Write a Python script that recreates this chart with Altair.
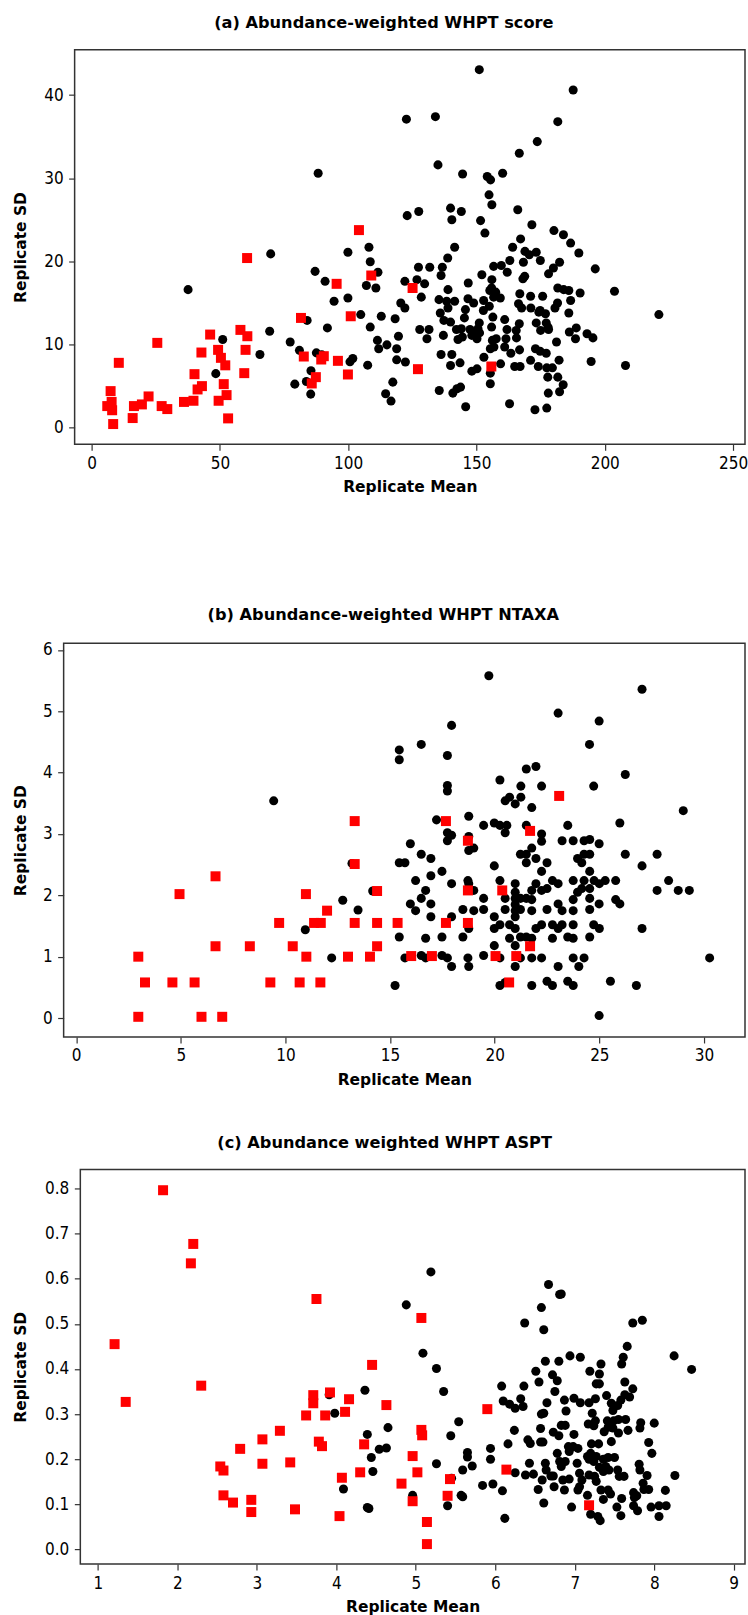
import altair as alt
import pandas as pd

# ---------------- data ----------------
A_TITLE = "(a) Abundance-weighted WHPT score"
B_TITLE = "(b) Abundance-weighted WHPT NTAXA"
C_TITLE = "(c) Abundance weighted WHPT ASPT"

A_RED = [(60.6,20.4),(25.6,10.2),(10.6,7.8),(7.4,4.4),(6.1,2.6),(7.8,3.1),(8.0,2.1),(8.4,0.44),(16.0,1.16),
         (16.5,2.6),(19.6,2.8),(22.2,3.76),(27.3,2.6),(29.5,2.24),(36.0,3.1),(39.7,3.24),(40.1,6.44),(41.3,4.6),
         (43.0,5.0),(42.8,9.04),(46.2,11.2),(49.3,9.36),(50.4,8.4),(52.1,7.5),(51.5,5.24),(49.5,3.24),(52.6,3.92),
         (53.2,1.12),(58.0,11.76),(60.7,11.0),(60.0,9.36),(59.5,6.56),(81.6,13.2),(82.7,8.56),(85.8,5.32),(87.4,6.08),
         (89.5,8.2),(90.5,8.6),(96.0,8.04),(95.5,17.3),(99.9,6.4),(101.0,13.4),(104.2,23.76),(109.0,18.3),
         (125.1,16.8),(127.2,7.04),(155.8,7.36)]

A_BLACK = [(37.6,16.6),(69.8,20.9),(51.1,10.6),(48.4,6.5),(65.6,8.8),(69.4,11.6),(77.4,10.3),(81.0,9.3),(84.0,12.9),
           (87.1,18.8),(91.0,17.6),(94.5,15.2),(91.9,12.0),(79.2,5.24),(83.7,5.56),(85.5,6.84),(85.4,4.04),(87.6,9.0),
           (89.7,8.76),(99.9,21.1),(99.9,15.6),(100.7,7.92),(101.8,8.32),(104.9,13.6),
           (151.1,43.05),(187.7,40.6),(122.7,37.1),(134.0,37.4),(181.7,36.8),(173.7,34.4),(166.7,33.0),(88.3,30.6),
           (135.0,31.6),(144.6,30.5),(154.2,30.2),(155.5,29.8),(160.2,30.6),(154.9,28.0),(156.0,26.8),(166.1,26.2),
           (123.0,25.5),(127.5,26.0),(139.9,26.4),(144.1,26.0),(140.4,25.0),(151.6,24.9),(153.3,23.4),(171.6,24.4),
           (180.2,23.7),(183.9,23.2),(186.7,22.2),(189.9,21.0),(167.2,22.7),(164.1,21.7),(141.5,21.7),(138.8,20.4),
           (108.1,21.7),(108.6,19.96),(168.9,21.2),(170.6,20.8),(173.3,21.1),(174.9,20.1),(163.0,20.1),(168.3,19.9),
           (182.4,19.9),(196.3,19.1),
           (111.6,18.7),(107.1,17.1),(110.8,16.8),(112.9,13.4),(118.3,13.1),(108.6,12.1),(111.4,10.5),(111.9,9.5),
           (115.1,9.96),(118.9,9.5),(119.6,11.0),(120.5,15.0),(122.1,14.4),(122.1,17.6),(126.8,17.8),(129.8,17.3),
           (127.4,19.3),(131.8,19.3),(136.7,19.3),(136.2,18.3),(128.5,15.7),(127.9,11.8),(130.7,10.7),(131.5,11.8),
           (118.9,8.16),(122.3,7.9),(107.6,7.52),(117.4,5.48),(114.6,4.08),(116.7,3.2),(135.5,4.48),(140.8,4.16),
           (142.4,4.68),(143.8,4.88),(145.8,2.52),(136.2,8.8),(140.4,8.8),(139.9,7.48),(143.6,7.8),(148.2,6.8),
           (150.2,7.08),(137.1,11.1),(138.9,16.6),(135.4,15.4),(138.4,15.2),(141.5,15.2),(135.9,13.8),(137.3,12.9),
           (139.9,12.7),(138.9,14.4),(142.2,11.8),(144.1,11.9),(142.8,10.6),(144.5,10.9),(146.8,17.4),(146.7,15.5),
           (148.9,15.0),(145.7,14.2),(145.3,13.2),(147.5,11.8),(148.8,11.4),(150.6,11.9),(150.2,10.7),(151.2,11.4),
           (148.2,11.1),(152.1,18.4),(152.8,15.3),(152.7,14.1),(156.0,17.8),(155.9,16.8),(155.2,16.5),(157.5,16.3),
           (156.7,15.7),(159.3,15.6),(155.0,14.6),(156.4,13.3),(155.9,12.1),(151.1,12.6),(156.7,19.4),(159.7,19.5),
           (162.0,18.7),(161.0,13.0),(161.9,11.8),(156.2,10.5),(157.7,10.7),(161.5,10.7),(155.4,9.5),(156.8,9.7),
           (152.9,8.48),(161.0,9.7),(163.4,8.96),(166.8,9.36),(159.4,7.68),(155.4,6.56),(155.4,5.28),(164.9,7.36),
           (167.0,7.36),(162.9,2.88),(171.1,8.1),(172.8,2.16),(177.4,2.36),(174.1,7.36),(177.4,7.2),(179.6,7.2),
           (173.0,9.5),(174.8,9.2),(177.2,8.96),(177.8,6.08),(181.7,6.08),(183.8,5.16),(182.4,4.32),(178.0,4.16),
           (182.2,8.12),(181.2,10.3),(173.3,12.6),(175.0,11.7),(177.9,12.1),(178.1,11.8),(177.2,12.6),(166.7,12.5),
           (165.5,11.7),(165.6,10.8),(166.9,16.1),(166.4,14.9),(167.6,14.4),(171.1,15.8),(175.8,15.8),(171.2,14.4),
           (174.3,13.9),(176.9,13.7),(174.8,14.1),(180.6,14.4),(181.6,15.0),(181.7,16.8),(184.0,16.6),(186.0,16.5),
           (190.4,16.2),(186.7,15.3),(186.0,13.8),(186.2,11.5),(188.9,12.0),(188.6,10.7),(193.1,11.3),(195.4,10.8),
           (194.7,7.96),(203.8,16.4),(208.1,7.48),(221.1,13.6),(168.1,17.9),(168.8,18.2),(178.1,18.5),(180.0,19.2)]

B_RED = [(2.97,1.0),(2.97,0.02),(3.29,0.58),(4.6,0.58),(4.94,2.02),(5.66,0.58),(5.99,0.02),(6.66,2.31),(6.66,1.17),
         (6.98,0.02),(8.3,1.17),(9.28,0.58),(9.7,1.55),(10.35,1.17),(10.68,0.58),(10.98,2.02),(11.0,1.0),(11.37,1.55),
         (11.69,1.55),(11.67,0.58),(11.99,1.75),(12.99,1.0),(13.31,3.21),(13.31,2.51),(13.31,1.55),(14.04,1.0),
         (14.38,2.07),(14.38,1.55),(14.38,1.17),(15.36,1.55),(16.01,1.01),(17.0,1.01),(17.67,3.21),(17.67,1.55),
         (18.72,2.89),(18.72,2.08),(18.72,1.55),(20.04,1.01),(20.36,2.08),(20.69,0.58),(21.03,1.01),(21.69,3.05),
         (21.69,1.17),(23.08,3.62)]

B_BLACK = [(9.44,3.54),(10.95,1.44),(12.21,0.98),(12.74,1.92),(13.18,2.52),(13.47,1.76),(14.17,2.07),
           (19.72,5.58),(27.04,5.36),(23.03,4.97),(24.99,4.84),(17.94,4.77),(16.49,4.46),(24.53,4.46),(15.44,4.37),
           (15.44,4.21),(17.74,4.28),(21.51,4.06),(21.97,4.1),(26.24,3.97),(20.25,3.88),(21.25,3.78),(22.24,3.78),
           (24.73,3.78),(17.74,3.79),(17.74,3.7),(20.71,3.6),(21.25,3.6),(20.5,3.54),(20.98,3.49),(21.77,3.43),
           (29.01,3.38),(18.76,3.29),(17.22,3.23),(19.47,3.14),(19.98,3.18),(20.25,3.14),(20.58,3.14),(20.5,3.02),
           (21.51,3.14),(23.49,3.14),(25.98,3.18),(22.24,3.0),(22.24,2.88),(17.74,3.02),(17.94,2.98),(17.74,2.89),
           (18.76,2.96),(23.22,2.89),(23.75,2.89),(24.27,2.89),(24.54,2.91),(24.99,2.84),(15.97,2.84),(21.77,2.77),
           (18.76,2.73),(19.0,2.77),(16.49,2.67),(21.23,2.67),(21.51,2.67),(21.51,2.53),(26.24,2.67),(27.76,2.67),
           (16.95,2.6),(21.97,2.6),(22.5,2.53),(23.96,2.6),(24.27,2.67),(24.54,2.67),(24.16,2.53),(15.44,2.53),
           (15.71,2.53),(19.98,2.48),(27.04,2.48),(17.48,2.39),(22.24,2.39),(24.54,2.39),(16.95,2.32),(16.22,2.24),
           (17.94,2.19),(18.72,2.24),(18.76,2.19),(20.25,2.24),(20.98,2.19),(21.97,2.19),(22.76,2.24),(23.03,2.19),
           (23.75,2.24),(24.27,2.24),(24.75,2.24),(25.28,2.24),(25.78,2.24),(28.31,2.24),(16.7,2.08),(19.0,2.08),
           (19.47,1.95),(20.98,2.05),(21.77,2.08),(22.24,2.08),(22.5,2.11),(23.96,2.05),(24.16,2.11),(24.54,2.11),
           (25.0,2.19),(27.76,2.08),(28.77,2.08),(29.3,2.08),(16.49,1.95),(20.5,1.95),(20.98,1.95),(21.23,1.95),
           (21.51,1.95),(21.77,1.93),(23.75,1.93),(24.54,1.95),(25.78,1.93),(25.98,1.86),(15.97,1.86),(16.22,1.75),
           (16.95,1.86),(18.48,1.77),(19.0,1.75),(19.47,1.77),(20.5,1.77),(20.98,1.85),(20.98,1.75),(21.23,1.77),
           (21.77,1.75),(22.5,1.77),(23.03,1.86),(23.22,1.75),(23.75,1.75),(24.54,1.77),(24.99,1.86),(16.95,1.65),
           (17.94,1.65),(19.98,1.65),(20.98,1.65),(18.76,1.46),(19.98,1.46),(20.25,1.52),(20.71,1.52),(20.98,1.46),
           (21.97,1.46),(22.24,1.52),(22.76,1.52),(23.22,1.52),(23.03,1.46),(23.75,1.52),(24.73,1.52),(25.0,1.46),
           (27.04,1.46),(15.44,1.32),(16.7,1.3),(17.48,1.32),(18.48,1.32),(20.71,1.3),(21.23,1.32),(21.51,1.32),
           (21.77,1.3),(22.76,1.3),(23.49,1.32),(23.75,1.3),(24.54,1.32),(19.98,1.18),(20.98,1.18),(15.71,0.98),
           (16.49,1.02),(16.7,0.98),(17.48,1.02),(17.74,0.98),(17.94,0.84),(18.72,0.98),(18.76,0.84),(19.47,1.02),
           (20.25,0.98),(20.98,0.84),(21.23,0.98),(21.77,0.98),(22.24,0.98),(23.03,0.84),(23.75,0.98),(24.27,0.98),
           (24.02,0.84),(30.27,0.98),(15.24,0.53),(20.25,0.53),(20.5,0.58),(21.77,0.53),(22.5,0.6),(22.76,0.53),
           (23.49,0.6),(23.75,0.53),(25.53,0.6),(26.77,0.53),(24.99,0.04)]

C_RED = [(1.82,0.796),(2.2,0.677),(2.17,0.634),(3.75,0.555),(1.21,0.455),(2.30,0.363),(1.35,0.327),(4.45,0.409),
         (3.71,0.342),(3.71,0.324),(3.92,0.348),(4.16,0.333),(3.62,0.297),(3.86,0.297),(4.11,0.305),(3.29,0.263),
         (3.07,0.244),(2.79,0.223),(3.78,0.239),(3.82,0.229),(4.35,0.233),(2.54,0.184),(2.58,0.175),(3.07,0.19),
         (3.42,0.193),(4.30,0.171),(4.07,0.159),(2.58,0.12),(2.70,0.104),(2.93,0.11),(2.93,0.083),(3.48,0.089),
         (4.04,0.074),(5.07,0.513),(4.63,0.32),(5.9,0.311),(5.07,0.265),(5.08,0.253),(4.96,0.207),(5.02,0.171),
         (4.82,0.146),(5.43,0.156),(5.40,0.119),(4.96,0.107),(5.14,0.061),(5.14,0.012),(6.14,0.177),(7.18,0.098)]

C_BLACK = [(3.91,0.343),(3.98,0.302),(4.36,0.353),(4.39,0.255),(4.54,0.222),(4.44,0.204),(4.46,0.173),(4.09,0.134),
           (4.39,0.093),(4.41,0.091),(5.19,0.615),(4.88,0.542),(6.67,0.587),(6.81,0.565),(6.83,0.566),(6.58,0.536),
           (6.37,0.502),(6.61,0.487),(7.73,0.502),(7.85,0.508),(5.09,0.435),(5.26,0.401),(7.66,0.45),(8.25,0.429),
           (8.47,0.399),(6.94,0.429),(7.07,0.426),(6.63,0.417),(6.80,0.417),(7.61,0.426),(7.59,0.411),(7.33,0.411),
           (7.19,0.395),(7.31,0.389),(6.51,0.395),(6.55,0.371),(6.72,0.387),(6.78,0.374),(7.27,0.367),(7.31,0.367),
           (7.63,0.371),(7.73,0.356),(5.35,0.35),(6.08,0.362),(6.36,0.362),(6.75,0.35),(7.40,0.341),(7.63,0.343),
           (7.69,0.338),(6.10,0.329),(6.18,0.322),(6.32,0.334),(6.25,0.313),(6.35,0.317),(6.87,0.331),(6.99,0.335),
           (7.07,0.325),(7.18,0.325),(7.26,0.334),(6.65,0.325),(6.61,0.302),(6.58,0.3),(6.89,0.307),(7.46,0.324),
           (7.54,0.319),(7.58,0.331),(7.48,0.308),(7.22,0.302),(7.26,0.285),(7.17,0.278),(7.24,0.274),(7.41,0.285),
           (7.49,0.285),(7.55,0.288),(7.64,0.288),(7.83,0.281),(7.82,0.269),(8.0,0.28),(5.54,0.283),(6.57,0.268),
           (6.24,0.264),(6.73,0.26),(6.83,0.275),(6.88,0.275),(6.80,0.252),(6.99,0.255),(7.37,0.261),(7.42,0.271),
           (7.48,0.269),(7.55,0.258),(7.46,0.239),(7.67,0.264),(5.44,0.252),(4.65,0.27),(4.63,0.225),(6.41,0.243),
           (6.44,0.235),(6.57,0.238),(6.60,0.238),(6.16,0.234),(6.92,0.228),(6.98,0.228),(6.93,0.217),(7.04,0.224),
           (7.21,0.234),(7.20,0.213),(7.16,0.206),(7.30,0.234),(7.93,0.237),(7.97,0.213),(5.65,0.215),(5.65,0.205),
           (5.94,0.224),(5.94,0.2),(6.78,0.213),(7.18,0.2),(7.24,0.195),(7.27,0.206),(7.36,0.2),(7.42,0.204),
           (7.50,0.204),(7.39,0.184),(5.26,0.19),(5.71,0.185),(6.43,0.191),(6.63,0.191),(6.81,0.195),(6.88,0.195),
           (6.83,0.184),(7.03,0.191),(7.31,0.182),(7.36,0.173),(7.43,0.176),(7.54,0.176),(7.56,0.162),(7.62,0.162),
           (7.81,0.189),(7.82,0.176),(7.91,0.164),(8.26,0.164),(5.59,0.176),(5.45,0.158),(6.25,0.17),(6.38,0.165),
           (6.48,0.167),(6.64,0.176),(6.70,0.163),(6.73,0.163),(6.59,0.154),(6.85,0.154),(6.93,0.156),(7.06,0.169),
           (7.09,0.154),(7.06,0.139),(7.04,0.132),(7.18,0.165),(7.25,0.162),(7.27,0.151),(5.84,0.142),(5.97,0.145),
           (6.09,0.13),(6.54,0.133),(6.74,0.139),(6.87,0.132),(7.33,0.132),(7.42,0.132),(7.36,0.111),(7.45,0.123),
           (7.86,0.147),(7.87,0.133),(7.93,0.133),(7.74,0.126),(7.75,0.115),(7.78,0.119),(8.14,0.131),(7.59,0.113),
           (4.96,0.12),(5.57,0.12),(5.59,0.117),(7.16,0.12),(6.61,0.103),(6.96,0.094),(5.40,0.097),(7.53,0.094),
           (7.58,0.075),(7.74,0.097),(7.79,0.086),(7.96,0.094),(8.06,0.073),(8.06,0.097),(8.15,0.097),(7.20,0.078),
           (7.29,0.073),(7.32,0.064),(6.12,0.069)]

A_XTICKS = [0, 50, 100, 150, 200, 250]
A_YTICKS = [0, 10, 20, 30, 40]
B_XTICKS = [0, 5, 10, 15, 20, 25, 30]
B_YTICKS = [0, 1, 2, 3, 4, 5, 6]
C_XTICKS = [1, 2, 3, 4, 5, 6, 7, 8, 9]
C_YTICKS = [0.0, 0.1, 0.2, 0.3, 0.4, 0.5, 0.6, 0.7, 0.8]

LABEL_FONT = "DejaVu Sans Condensed"
TITLE_FONT = "DejaVu Sans"
PLOT_W = 682          # common plot-area width (frames end at the same right edge)
TITLE_ABS_X = 26.7    # y-axis title position shared by all panels


def panel(title, black, red, xdom, ydom, xticks, yticks, h, yfmt, inset, tdx):
    rows = [{"x": x, "y": y, "g": "b"} for x, y in black] + [{"x": x, "y": y, "g": "r"} for x, y in red]
    df = pd.DataFrame(rows)
    xscale = alt.Scale(domain=xdom, nice=False, zero=False, range=[inset, PLOT_W])
    yscale = alt.Scale(domain=ydom, nice=False, zero=False)
    xaxis = alt.Axis(values=xticks, title="Replicate Mean", titleY=35.5, titleBaseline="top",
                     labelPadding=5, format="d")
    yaxis = alt.Axis(values=yticks, title="Replicate SD", titleX=TITLE_ABS_X - 62 - inset,
                     labelPadding=5.5, format=yfmt, offset=-inset)
    base = alt.Chart(df)
    circ = base.transform_filter(alt.datum.g == "b").mark_circle(size=82, color="#000000", opacity=1).encode(
        x=alt.X("x:Q", scale=xscale, axis=xaxis), y=alt.Y("y:Q", scale=yscale, axis=yaxis))
    sq = base.transform_filter(alt.datum.g == "r").mark_square(size=100, color="#FF0000", opacity=1).encode(
        x=alt.X("x:Q", scale=xscale, axis=xaxis), y=alt.Y("y:Q", scale=yscale, axis=yaxis))
    frame_df = pd.DataFrame([{"x0": xdom[0], "x1": xdom[1], "y0": ydom[0], "y1": ydom[1]}])
    frame = alt.Chart(frame_df).mark_rect(fillOpacity=0, stroke="#333333", strokeWidth=1.5).encode(
        x=alt.X("x0:Q", scale=xscale, axis=xaxis), x2="x1:Q",
        y=alt.Y("y0:Q", scale=yscale, axis=yaxis), y2="y1:Q")
    return alt.layer(circ, sq, frame).properties(
        width=PLOT_W, height=h,
        title=alt.TitleParams(text=title, font=TITLE_FONT, fontSize=16.2, fontWeight="bold", color="#000000",
                              anchor="middle", offset=2, baseline="bottom", dx=tdx))


pa = panel(A_TITLE, A_BLACK, A_RED, [-6.62, 254.67], [-2.0, 45.45], A_XTICKS, A_YTICKS, 395, "d", 11, -20.5)
pb = panel(B_TITLE, B_BLACK, B_RED, [-0.597, 31.96], [-0.309, 6.107], B_XTICKS, B_YTICKS, 394, "d", 0, -21)
pc = panel(C_TITLE, C_BLACK, C_RED, [0.779, 9.142], [-0.0323, 0.842], C_XTICKS, C_YTICKS, 395, ".1f", 16.7, -19.7)

spacer = alt.Chart(pd.DataFrame({"v": [0]})).mark_point(opacity=0, size=1).encode(
    x=alt.value(0), y=alt.value(0)).properties(width=10, height=16.5)

chart = alt.concat(pa, spacer, pb, pc, columns=1, spacing=46.6,
                   padding={"left": 12.7, "top": 14, "right": 0, "bottom": 0}).configure_view(
    strokeOpacity=0
).configure_axis(
    grid=False, domain=False, tickSize=6, tickColor="#333333", tickWidth=1.2,
    labelFont=LABEL_FONT, labelFontSize=17, labelColor="#000000",
    titleFont=TITLE_FONT, titleFontSize=15.5, titleFontWeight="bold", titleColor="#000000"
).properties(background="white")

chart.save("out.html", embed_options={"renderer": "svg", "actions": False})
